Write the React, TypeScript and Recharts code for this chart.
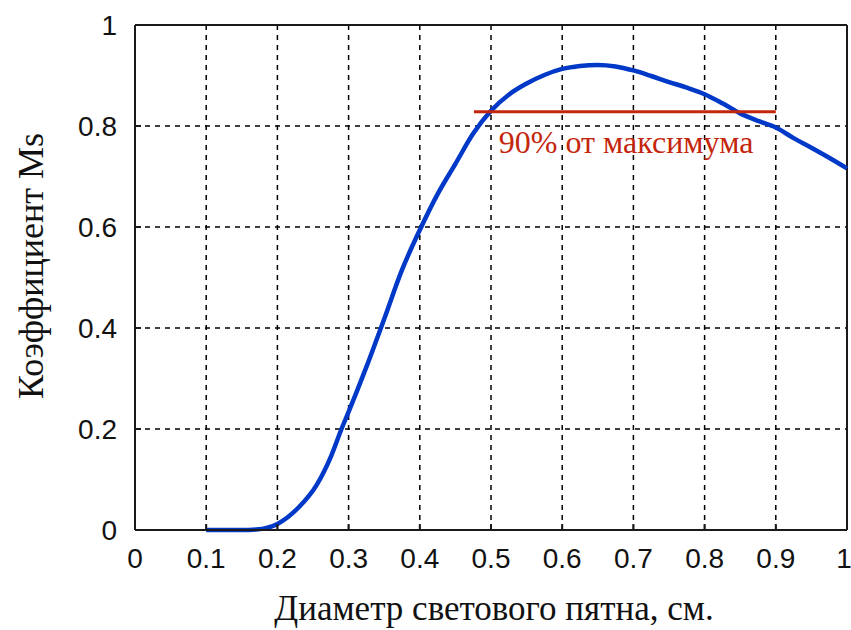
import React from "react";
import {
  LineChart,
  Line,
  XAxis,
  YAxis,
  CartesianGrid,
  ReferenceLine,
  ReferenceDot,
} from "recharts";

// diameter (cm) -> coefficient Ms
const diameter = [
  0.1, 0.15, 0.17, 0.2, 0.23, 0.255, 0.275, 0.29, 0.3, 0.325, 0.35, 0.375, 0.4, 0.425, 0.45,
  0.475, 0.5, 0.525, 0.55, 0.575, 0.6, 0.625, 0.65, 0.675, 0.7, 0.725, 0.75, 0.775, 0.8,
  0.825, 0.85, 0.875, 0.9, 0.925, 0.95, 0.975, 1.0,
];
const coefMs = [
  0, 0, 0.001, 0.012, 0.045, 0.089, 0.145, 0.2, 0.234, 0.323, 0.418, 0.515, 0.594, 0.665,
  0.725, 0.785, 0.83, 0.862, 0.884, 0.901, 0.913, 0.919, 0.921, 0.918, 0.91, 0.899, 0.887,
  0.876, 0.863, 0.845, 0.825, 0.81, 0.797, 0.776, 0.757, 0.737, 0.716,
];

const xTicks = [0, 0.1, 0.2, 0.3, 0.4, 0.5, 0.6, 0.7, 0.8, 0.9, 1];
const yTicks = [0, 0.2, 0.4, 0.6, 0.8, 1];

// 90% of maximum marker
const level90 = 0.828;
const level90From = 0.476;
const level90To = 0.9;
const level90Text = "90% от максимума";
const level90TextAt = { x: 0.511, y: 0.7465 };

const xTitle = "Диаметр светового пятна, см.";
const yTitle = "Коэффициент Ms";

const data = diameter.map((d, i) => ({ d, ms: coefMs[i] }));

const SERIF = "'Liberation Serif', 'Times New Roman', serif";
const SANS = "'Liberation Sans', Arial, sans-serif";
const INK = "#1a1a1a";
const BLUE = "#0038c8";
const RED = "#c4260c";

export default function App() {
  return (
    <div style={{ position: "absolute", left: 0, top: 0, width: 851, height: 630, background: "#fff" }}>
      <LineChart
        width={851}
        height={630}
        data={data}
        margin={{ top: 25, right: 4, left: 75, bottom: 70 }}
      >
        <CartesianGrid stroke="#000" strokeDasharray="5 5" strokeWidth={1.5} />
        <XAxis
          dataKey="d"
          type="number"
          domain={[0, 1]}
          ticks={xTicks}
          height={30}
          stroke={INK}
          strokeWidth={2}
          tickSize={-6}
          tickMargin={24}
          tick={{ fontSize: 28, fill: "#111", fontFamily: SANS }}
          label={{
            content: () => (
              <text x={494} y={620} textAnchor="middle" fontSize={35} fontFamily={SERIF} fill="#111">
                {xTitle}
              </text>
            ),
          }}
        />
        <YAxis
          type="number"
          domain={[0, 1]}
          ticks={yTicks}
          width={60}
          stroke={INK}
          strokeWidth={2}
          tickSize={-6}
          tickMargin={24}
          tick={{ fontSize: 28, fill: "#111", fontFamily: SANS }}
          label={{
            content: () => (
              <text
                x={31}
                y={266}
                transform="rotate(-90 31 266)"
                textAnchor="middle"
                dominantBaseline="central"
                fontSize={36}
                fontFamily={SERIF}
                fill="#111"
              >
                {yTitle}
              </text>
            ),
          }}
        />
        <ReferenceLine y={1} stroke={INK} strokeWidth={2} />
        <ReferenceLine x={1} stroke={INK} strokeWidth={2} />
        <Line
          dataKey="ms"
          type="monotone"
          stroke={BLUE}
          strokeWidth={4.5}
          dot={false}
          isAnimationActive={false}
        />
        <ReferenceLine
          segment={[
            { x: level90From, y: level90 },
            { x: level90To, y: level90 },
          ]}
          stroke={RED}
          strokeWidth={3}
        />
        <ReferenceDot
          x={level90TextAt.x}
          y={level90TextAt.y}
          r={0}
          stroke="none"
          label={{
            content: (p: any) => (
              <text x={p.viewBox.x} y={p.viewBox.y} fontSize={32} fontFamily={SERIF} fill={RED}>
                {level90Text}
              </text>
            ),
          }}
        />
      </LineChart>
    </div>
  );
}
